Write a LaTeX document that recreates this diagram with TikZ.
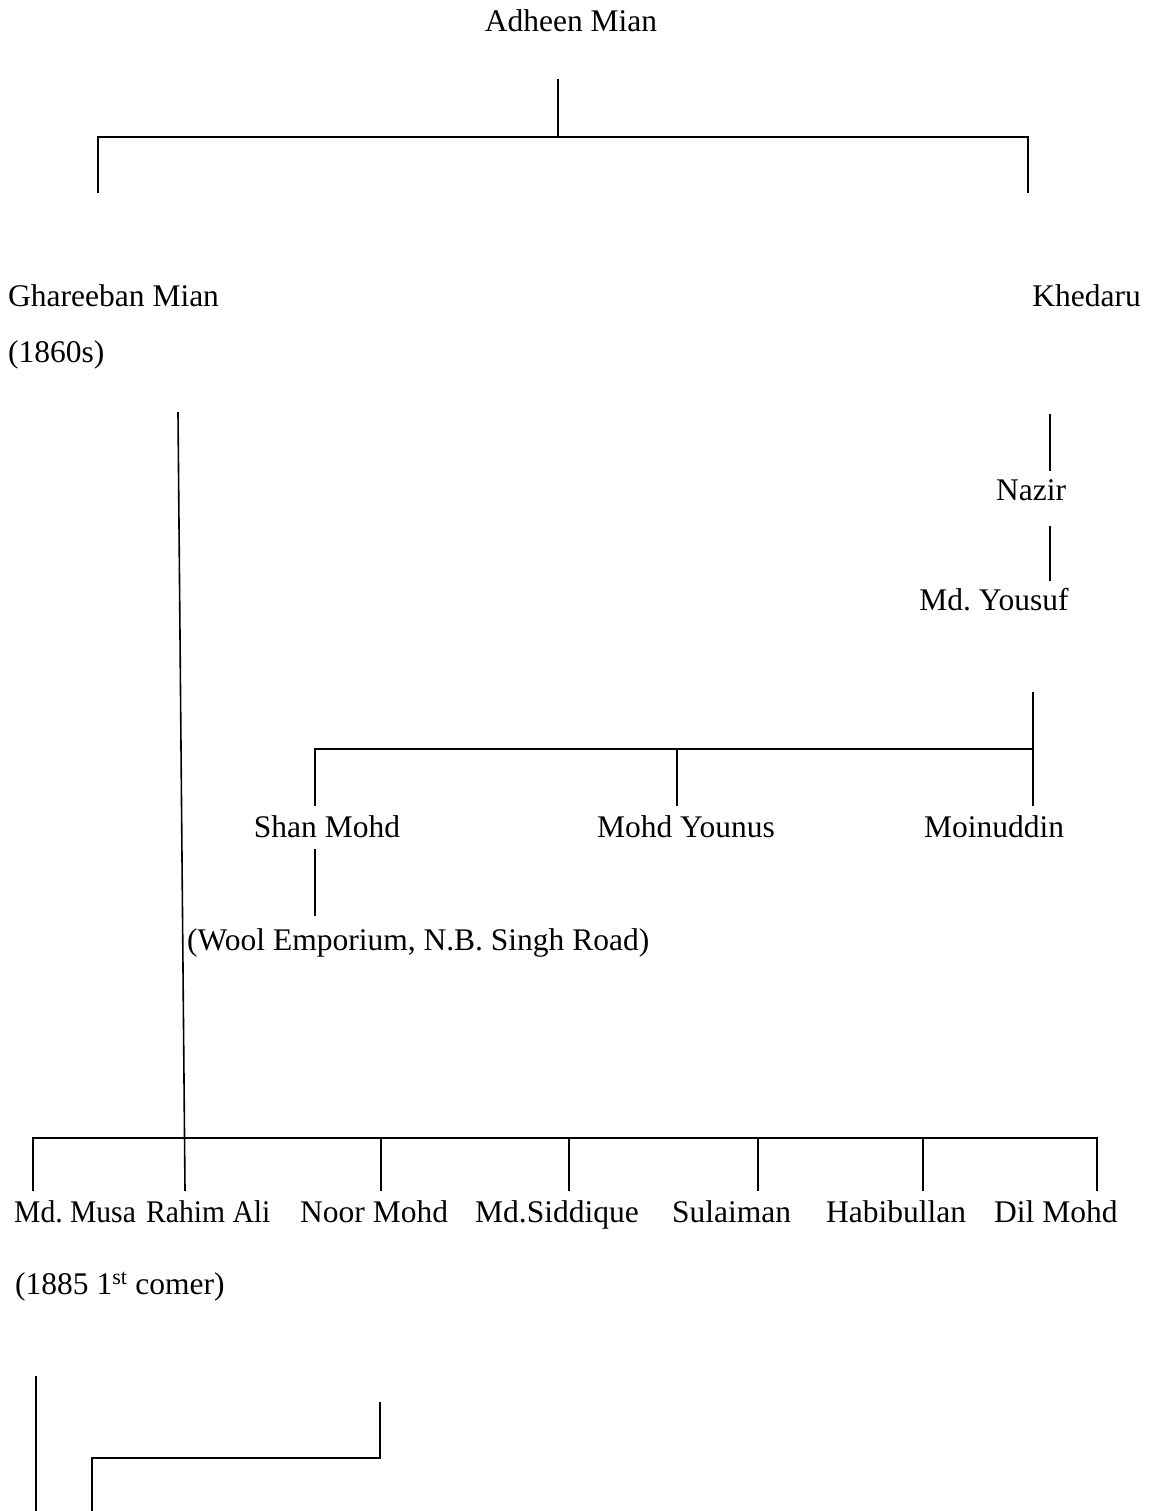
\documentclass[tikz,border=0pt]{standalone}
\usepackage{fontspec}
\setmainfont{Liberation Serif}
\newfontfamily\condfont[FakeStretch=0.94]{Liberation Serif}
\frenchspacing
\tikzset{
  lbl/.style={anchor=base west, inner sep=0pt, font=\fontsize{31.5}{38}\selectfont},
  lblc/.style={anchor=base, inner sep=0pt, font=\fontsize{31.5}{38}\selectfont},
  lblr/.style={anchor=base east, inner sep=0pt, font=\fontsize{31.5}{38}\selectfont},
  cond/.style={anchor=base west, inner sep=0pt, font=\condfont\fontsize{31.5}{38}\selectfont},
  conn/.style={line width=1.6pt, line cap=rect}
}
\begin{document}
\begin{tikzpicture}[x=1pt,y=-1pt]
\useasboundingbox[fill=white] (0,0) rectangle (1155,1511);
% labels
\node[lblc] (adheen) at (571,32) {Adheen Mian};
\node[lbl] (ghareeban) at (8,307) {Ghareeban Mian};
\node[lbl] (y1860) at (8,362) {(1860s)};
\node[lblr] (khedaru) at (1141,307) {Khedaru};
\node[lblc] (nazir) at (1031,500) {Nazir};
\node[lblc] (yousuf) at (994,610) {Md. Yousuf};
\node[lblc] (shan) at (327,837) {Shan Mohd};
\node[lblc] (younus) at (686,837) {Mohd Younus};
\node[lblc] (moin) at (994,837) {Moinuddin};
\node[lbl] (wool) at (187,950) {(Wool Emporium, N.B. Singh Road)};
\node[cond] (musa) at (14,1222) {Md. Musa};
\node[cond] (rahim) at (146,1222) {Rahim Ali};
\node[lbl] (noor) at (300,1222) {Noor Mohd};
\node[lbl] (siddique) at (475,1222) {Md.Siddique};
\node[lbl] (sulaiman) at (672,1222) {Sulaiman};
\node[lbl] (habib) at (826,1222) {Habibullan};
\node[lbl] (dil) at (994,1222) {Dil Mohd};
\node[lbl] (musanote) at (15,1294) {(1885 1\textsuperscript{st} comer)};
% junction coordinates
\coordinate (a1) at (558,80);
\coordinate (a2) at (558,137);
\coordinate (bl) at (98,137);
\coordinate (br) at (1028,137);
\coordinate (gtop) at (98,192);
\coordinate (ktop) at (1028,192);
\coordinate (g1) at (178,413);
\coordinate (g2) at (185,1190);
\coordinate (k1) at (1050,415);
\coordinate (k2) at (1050,470);
\coordinate (n1) at (1050,527);
\coordinate (n2) at (1050,580);
\coordinate (y1) at (1033,693);
\coordinate (y2) at (1033,749);
\coordinate (y3) at (1033,805);
\coordinate (sb) at (315,749);
\coordinate (st) at (315,805);
\coordinate (yb) at (677,749);
\coordinate (yt) at (677,805);
\coordinate (s1) at (315,850);
\coordinate (s2) at (315,915);
\coordinate (bb1) at (33,1138);
\coordinate (bb2) at (1097,1138);
\coordinate (m1) at (36,1377);
\coordinate (m2) at (36,1511);
\coordinate (p1) at (380,1403);
\coordinate (p2) at (380,1458);
\coordinate (p3) at (92,1458);
\coordinate (p4) at (92,1511);
% connectors
\draw[conn] (a1) -- (a2);
\draw[conn] (bl) -- (br);
\draw[conn] (bl) -- (gtop);
\draw[conn] (br) -- (ktop);
\draw[conn] (g1) -- (g2);
\draw[conn] (k1) -- (k2);
\draw[conn] (n1) -- (n2);
\draw[conn] (y1) -- (y3);
\draw[conn] (sb) -- (y2);
\draw[conn] (sb) -- (st);
\draw[conn] (yb) -- (yt);
\draw[conn] (s1) -- (s2);
\draw[conn] (bb1) -- (bb2);
\foreach \x in {33,381,569,758,923,1097}{
  \draw[conn] (\x,1138) -- (\x,1190);
}
\draw[conn] (m1) -- (m2);
\draw[conn] (p1) -- (p2) -- (p3) -- (p4);
\end{tikzpicture}
\end{document}
